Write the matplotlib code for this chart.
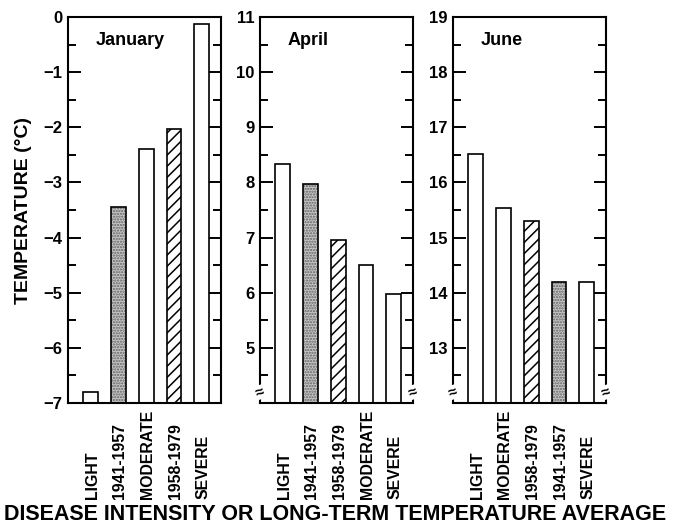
import matplotlib
matplotlib.use("Agg")
import matplotlib.pyplot as plt
from matplotlib.ticker import MultipleLocator
import numpy as np

plt.rcParams['font.family'] = ['Liberation Sans', 'DejaVu Sans']
plt.rcParams['font.weight'] = 'bold'
plt.rcParams['hatch.linewidth'] = 1.1

# ---- data ----
months = ["January", "April", "June"]
jan_labels = ["LIGHT", "1941-1957", "MODERATE", "1958-1979", "SEVERE"]
jan_values = [-6.8, -3.45, -2.4, -2.03, -0.12]
apr_labels = ["LIGHT", "1941-1957", "1958-1979", "MODERATE", "SEVERE"]
apr_values = [8.33, 7.97, 6.95, 6.5, 5.97]
jun_labels = ["LIGHT", "MODERATE", "1958-1979", "1941-1957", "SEVERE"]
jun_values = [16.52, 15.53, 15.3, 14.2, 14.2]
ylims = [(-7, 0), (4, 11), (12, 19)]
broken = [False, True, True]

panels = [(jan_labels, jan_values), (apr_labels, apr_values), (jun_labels, jun_values)]

fig = plt.figure(figsize=(6.74, 5.24), dpi=100)
lefts = [68 / 674, 260 / 674, 453 / 674]
width = 153 / 674
bottom = 1 - 403 / 524
height = 386 / 524


def style_for(label):
    if label == "1941-1957":
        return dict(facecolor="#c8c8c8", hatch="......", hcolor="#606060")
    if label == "1958-1979":
        return dict(facecolor="white", hatch="///", hcolor="black")
    return dict(facecolor="white", hatch=None, hcolor="black")


for i, ((labels, values), month, (y0, y1), brk) in enumerate(zip(panels, months, ylims, broken)):
    ax = fig.add_axes([lefts[i], bottom, width, height])
    x = np.arange(len(labels))
    for xi, lab, v in zip(x, labels, values):
        st = style_for(lab)
        ax.bar(xi, v - y0, bottom=y0, width=0.53, color=st["facecolor"],
               edgecolor=st["hcolor"], linewidth=0, hatch=st["hatch"], zorder=2)
        ax.bar(xi, v - y0, bottom=y0, width=0.53, fill=False,
               edgecolor="black", linewidth=1.2, zorder=3)
        ax.text(xi + 0.05, -0.248, lab, transform=ax.get_xaxis_transform(),
                rotation=90, ha="center", va="bottom", fontsize=11.4,
                fontweight="bold", clip_on=False)
    ax.set_xlim(-0.82, 4.7)
    ax.set_ylim(y0, y1)
    ax.set_xticks([])
    ax.yaxis.set_major_locator(MultipleLocator(1))
    ax.yaxis.set_minor_locator(MultipleLocator(0.5))
    ax.tick_params(axis="y", which="both", direction="in", left=True, right=True,
                   width=1.4, labelsize=12, pad=4)
    ax.tick_params(axis="y", which="major", length=9)
    ax.tick_params(axis="y", which="minor", length=5.5)
    for sp in ax.spines.values():
        sp.set_linewidth(1.5)
    if brk:
        ticks = [t for t in range(int(y0) + 1, int(y1) + 1)]
        ax.set_yticks(ticks)
        for xs in (0, 1):
            ax.text(xs, 0.028, "≈", transform=ax.transAxes, ha="center",
                    va="center", fontsize=11, fontweight="bold", rotation=20,
                    zorder=5, clip_on=False,
                    bbox=dict(boxstyle="square,pad=0", fc="white", ec="none"))
    for lbl in ax.get_yticklabels():
        lbl.set_fontweight("bold")
    ax.text(0.183, 0.927, month, transform=ax.transAxes, fontsize=13,
            fontweight="bold", ha="left", va="baseline")
    if i == 0:
        ax.set_ylabel("TEMPERATURE (°C)", fontsize=14, labelpad=8,
                      fontweight="bold")

fig.text(0.497, 4 / 524, "DISEASE INTENSITY OR LONG-TERM TEMPERATURE AVERAGE",
         ha="center", va="baseline", fontsize=15.5, fontweight="bold")

fig.savefig("out.png", dpi=100)
